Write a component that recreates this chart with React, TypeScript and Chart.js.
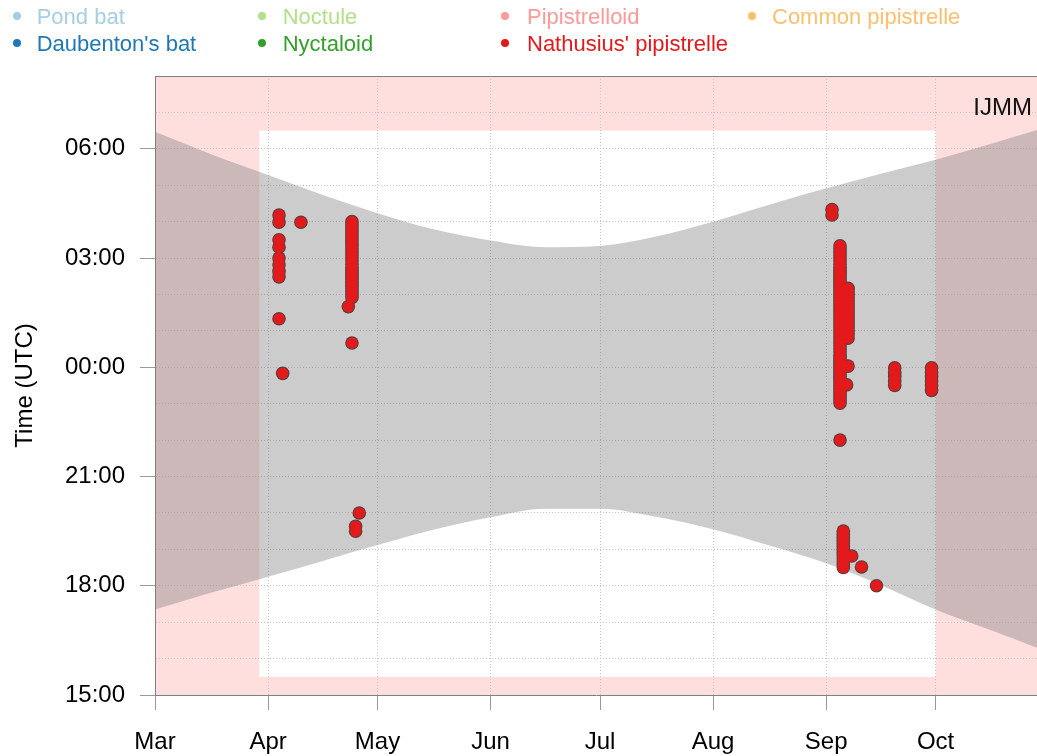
import React, { useEffect, useRef } from 'react';
import { Chart, registerables } from 'chart.js';

Chart.register(...registerables);

const FONT = "'Liberation Sans', Arial, Helvetica, sans-serif";

// ---- axes ----
const MONTH_LABELS = ['Mar', 'Apr', 'May', 'Jun', 'Jul', 'Aug', 'Sep', 'Oct'];
const MONTH_DAYS = [0, 31, 61, 92, 122, 153, 184, 214]; // days since 1 March
const X_MIN_DAY = 0;
const X_MAX_DAY = 241.8;
const Y_MIN_HOUR = 15;
const Y_MAX_HOUR = 32; // 08:00 next morning
const HOUR_LABEL_TICKS = [15, 18, 21, 24, 27, 30];
const HOUR_GRID = [15, 16, 17, 18, 19, 20, 21, 22, 23, 24, 25, 26, 27, 28, 29, 30, 31, 32];

// ---- recording period (white area) ----
const RECORDING_DAYS = [28.6, 214.1];
const RECORDING_HOURS = [15.5, 30.5];
const SITE_LABEL = 'IJMM';

// ---- night (sunset -> sunrise) ----
const SUN_DAYS = [0, 15, 31, 46, 61, 76, 92, 107, 122, 137, 153, 168, 184, 199, 214, 229, 241.8];
const SUNSET = ['17:21', '17:48', '18:15', '18:41', '19:07', '19:32', '19:53', '20:07', '20:07', '19:54', '19:33', '19:07', '18:37', '18:01', '17:21', '16:47', '16:18'];
const SUNRISE = ['06:28', '05:52', '05:17', '04:44', '04:14', '03:48', '03:29', '03:18', '03:20', '03:35', '04:00', '04:27', '04:55', '05:19', '05:42', '06:08', '06:31'];

// ---- legend ----
const SPECIES = ['Pond bat', "Daubenton's bat", 'Noctule', 'Nyctaloid', 'Pipistrelloid', "Nathusius' pipistrelle", 'Common pipistrelle'];
const SPECIES_COLORS = ['#A6CEE3', '#1F78B4', '#B2DF8A', '#33A02C', '#FB9A99', '#E31A1C', '#FDBF6F'];

// ---- observations: Nathusius' pipistrelle (night date, days since 1 March) ----
const OBS_NIGHT_DAY = [34, 35, 40, 54, 53, 56, 55, 185.6, 187.8, 190, 189.6, 188.7, 191, 193.7, 197.8, 202.8, 212.9];
const OBS_NIGHT_TIMES = [
  ['04:11', '03:59', '03:30', '03:18', '03:00', '02:49', '02:38', '02:29', '01:20'],
  ['23:50'],
  ['03:59'],
  ['04:00', '03:55', '03:50', '03:45', '03:40', '03:35', '03:30', '03:25', '03:20', '03:15', '03:10', '03:05', '03:00', '02:55', '02:50', '02:45', '02:40', '02:35', '02:30', '02:25', '02:20', '02:15', '02:10', '02:05', '02:00', '01:55', '00:40'],
  ['01:40'],
  ['20:00'],
  ['19:38', '19:30'],
  ['04:20', '04:11'],
  ['03:20', '03:15', '03:10', '03:05', '03:00', '02:55', '02:50', '02:45', '02:40', '02:35', '02:30', '02:25', '02:20', '02:15', '02:10', '02:05', '02:00', '01:55', '01:50', '01:45', '01:40', '01:35', '01:30', '01:25', '01:20', '01:15', '01:10', '01:05', '01:00', '00:55', '00:50', '00:45', '00:40', '00:35', '00:30', '00:25', '00:20', '00:15', '00:10', '00:05', '00:00', '23:55', '23:50', '23:45', '23:40', '23:35', '23:30', '23:25', '23:20', '23:15', '23:10', '23:05', '23:01', '22:00'],
  ['02:10', '02:05', '02:00', '01:55', '01:50', '01:45', '01:40', '01:35', '01:30', '01:25', '01:20', '01:15', '01:10', '01:05', '01:00', '00:55', '00:48', '00:02'],
  ['23:31'],
  ['19:30', '19:25', '19:20', '19:15', '19:10', '19:05', '19:00', '18:55', '18:50', '18:45', '18:40', '18:35', '18:30'],
  ['18:49'],
  ['18:31'],
  ['18:00'],
  ['23:59', '23:52', '23:45', '23:37', '23:30'],
  ['23:59', '23:52', '23:45', '23:37', '23:30', '23:22'],
];

function toHours(t: string): number {
  const [h, m] = t.split(':').map(Number);
  const v = h + m / 60;
  return v < 12 ? v + 24 : v;
}

function fmtHour(v: number): string {
  const h = ((v % 24) + 24) % 24;
  return String(Math.round(h)).padStart(2, '0') + ':00';
}

const LEGEND_TEXT_X = [36.7, 282.7, 527, 772];
const LEGEND_DOT_X = [17, 261.7, 505, 751.7];
const LEGEND_BASELINE = [25, 51.7];

export default function App() {
  const ref = useRef<HTMLCanvasElement>(null);

  useEffect(() => {
    const canvas = ref.current;
    if (!canvas) return;

    const bgPlugin = {
      id: 'bgRegions',
      beforeDraw(chart: any) {
        const { ctx, chartArea: a, scales } = chart;
        const x = scales.x;
        const y = scales.y;
        ctx.save();
        ctx.fillStyle = 'rgb(255,222,222)';
        ctx.fillRect(a.left, a.top, a.right - a.left, a.bottom - a.top);
        const x0 = x.getPixelForValue(RECORDING_DAYS[0]);
        const x1 = x.getPixelForValue(RECORDING_DAYS[1]);
        const y0 = y.getPixelForValue(RECORDING_HOURS[1]);
        const y1 = y.getPixelForValue(RECORDING_HOURS[0]);
        ctx.fillStyle = '#ffffff';
        ctx.fillRect(x0, y0, x1 - x0, y1 - y0);
        ctx.restore();
      },
    };

    const framePlugin = {
      id: 'frameLabel',
      afterDraw(chart: any) {
        const { ctx, chartArea: a } = chart;
        ctx.save();
        ctx.strokeStyle = '#808080';
        ctx.lineWidth = 1;
        ctx.beginPath();
        ctx.moveTo(a.left, Math.round(a.top) + 0.5);
        ctx.lineTo(a.right, Math.round(a.top) + 0.5);
        ctx.stroke();
        ctx.fillStyle = '#111111';
        ctx.font = `24px ${FONT}`;
        ctx.textAlign = 'right';
        ctx.textBaseline = 'alphabetic';
        ctx.fillText(SITE_LABEL, a.right - 5, a.top + 39);
        ctx.restore();
      },
    };

    const points: { x: number; y: number }[] = [];
    OBS_NIGHT_DAY.forEach((d, i) => {
      OBS_NIGHT_TIMES[i].forEach((t) => points.push({ x: d, y: toHours(t) }));
    });
    const sunsetPts = SUN_DAYS.map((d, i) => ({ x: d, y: toHours(SUNSET[i]) }));
    const sunrisePts = SUN_DAYS.map((d, i) => ({ x: d, y: toHours(SUNRISE[i]) }));

    const GRID_COLOR = '#c4c4c4';

    const chart = new Chart(canvas, {
      type: 'line',
      data: {
        datasets: [
          {
            // fill of the markers (drawn on top)
            label: SPECIES[5],
            data: points,
            showLine: false,
            pointRadius: 5.8,
            pointHoverRadius: 5.8,
            pointBackgroundColor: SPECIES_COLORS[5],
            pointBorderWidth: 0,
            pointBorderColor: SPECIES_COLORS[5],
            order: 0,
          } as any,
          {
            // outline of the markers (drawn beneath)
            label: SPECIES[5] + ' outline',
            data: points,
            showLine: false,
            pointRadius: 6.8,
            pointHoverRadius: 6.8,
            pointBackgroundColor: '#4d4040',
            pointBorderWidth: 0,
            pointBorderColor: '#4d4040',
            order: 1,
          } as any,
          {
            label: 'sunset',
            data: sunsetPts,
            borderColor: 'transparent',
            borderWidth: 0,
            pointRadius: 0,
            fill: false,
            cubicInterpolationMode: 'monotone',
            order: 2,
          } as any,
          {
            label: 'sunrise',
            data: sunrisePts,
            borderColor: 'transparent',
            borderWidth: 0,
            pointRadius: 0,
            fill: '-1',
            backgroundColor: 'rgba(128,128,128,0.4)',
            cubicInterpolationMode: 'monotone',
            order: 3,
          } as any,
        ],
      },
      options: {
        animation: false,
        responsive: false,
        events: [],
        layout: { autoPadding: false, padding: { top: 76, left: 0, right: 0, bottom: 0 } },
        plugins: {
          legend: { display: false },
          tooltip: { enabled: false },
        },
        scales: {
          x: {
            type: 'linear',
            min: X_MIN_DAY,
            max: X_MAX_DAY,
            afterBuildTicks: (s: any) => {
              s.ticks = MONTH_DAYS.map((v) => ({ value: v }));
            },
            afterFit: (s: any) => {
              s.height = 61;
            },
            ticks: {
              autoSkip: false,
              maxRotation: 0,
              padding: 18,
              color: '#000',
              font: { family: FONT, size: 24 },
              callback: (_v: any, i: number) => MONTH_LABELS[i] ?? '',
            },
            grid: {
              color: GRID_COLOR,
              lineWidth: 1,
              tickColor: '#999999',
              tickLength: 15,
              tickBorderDash: [],
            },
            border: { color: '#808080', width: 1, dash: [1, 2] },
          },
          y: {
            type: 'linear',
            min: Y_MIN_HOUR,
            max: Y_MAX_HOUR,
            afterBuildTicks: (s: any) => {
              s.ticks = HOUR_GRID.map((v) => ({ value: v }));
            },
            afterFit: (s: any) => {
              s.width = 155;
            },
            ticks: {
              autoSkip: false,
              padding: 15,
              color: '#000',
              font: { family: FONT, size: 24 },
              callback: (v: any) => (HOUR_LABEL_TICKS.includes(Number(v)) ? fmtHour(Number(v)) : ''),
            },
            grid: {
              color: GRID_COLOR,
              lineWidth: 1,
              tickLength: 15,
              tickBorderDash: [],
              tickColor: (ctx: any) =>
                ctx.tick && HOUR_LABEL_TICKS.includes(ctx.tick.value) ? '#999999' : 'rgba(0,0,0,0)',
            },
            border: { color: '#808080', width: 1, dash: [1, 2] },
            title: {
              display: true,
              text: 'Time (UTC)',
              color: '#000',
              font: { family: FONT, size: 24 },
              padding: { top: 11, bottom: 0 },
            },
          },
        },
      } as any,
      plugins: [bgPlugin, framePlugin],
    });

    return () => chart.destroy();
  }, []);

  return (
    <div
      style={{
        position: 'fixed',
        left: 0,
        top: 0,
        width: 1037,
        height: 756,
        background: '#ffffff',
        overflow: 'hidden',
      }}
    >
      <canvas
        ref={ref}
        width={1037}
        height={756}
        style={{ position: 'absolute', left: 0, top: 0, width: 1037, height: 756 }}
      />
      {SPECIES.map((name, i) => {
        const col = Math.floor(i / 2);
        const row = i % 2;
        const baseline = LEGEND_BASELINE[row];
        return (
          <React.Fragment key={name}>
            <div
              style={{
                position: 'absolute',
                left: LEGEND_DOT_X[col] - 4,
                top: baseline - 9 - 4,
                width: 8,
                height: 8,
                borderRadius: '50%',
                background: SPECIES_COLORS[i],
              }}
            />
            <div
              style={{
                position: 'absolute',
                left: LEGEND_TEXT_X[col],
                top: baseline - 18.6,
                fontFamily: FONT,
                fontSize: 22,
                lineHeight: '22px',
                color: SPECIES_COLORS[i],
                whiteSpace: 'nowrap',
              }}
            >
              {name}
            </div>
          </React.Fragment>
        );
      })}
    </div>
  );
}
